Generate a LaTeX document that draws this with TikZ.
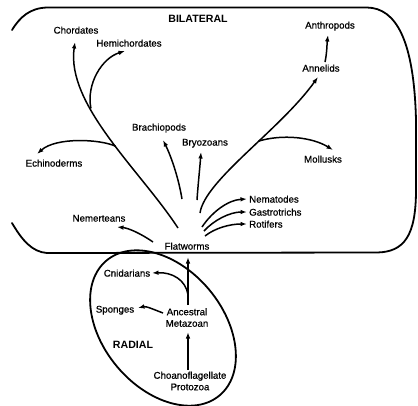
\documentclass[tikz,border=0pt]{standalone}
\usepackage{fontspec}
\setmainfont{Liberation Sans}
\newfontfamily\taxonfont[FakeBold=0.7]{Liberation Sans}
\usetikzlibrary{arrows.meta}
\begin{document}
\begin{tikzpicture}[x=1pt,y=-1pt,
  lbl/.style={font=\taxonfont\fontsize{9.7}{11.5}\selectfont, inner sep=0pt, anchor=base},
  twoline/.style={font=\taxonfont\fontsize{9.7}{11.5}\selectfont, inner sep=0pt, align=center},
  region/.style={font=\fontsize{10.6}{12}\selectfont\bfseries, inner sep=0pt, anchor=base},
  wall/.style={line width=1.8pt, line cap=round},
  link/.style={line width=1.5pt, -{Latex[length=6.5pt,width=4.6pt]}}]
\useasboundingbox (0,0) rectangle (418,405);

% ---- bilateral enclosure (open on the left) ----
\draw[wall] (12,30) .. controls (20,17) and (30,8) .. (47,7.5) -- (367,7.5)
  .. controls (396,8) and (414,40) .. (416,120) -- (416,190)
  .. controls (416,236) and (404,252) .. (377,252.5) -- (47,253)
  .. controls (32,252) and (22,240) .. (12,223);

% ---- radial enclosure ----
\draw[wall, rotate around={-50:(163,328)}] (163,328) ellipse [x radius=88, y radius=60];

% ---- labels ----
\node[region] (bil) at (198,22.8) {BILATERAL};
\node[region] (rad) at (133,348.8) {RADIAL};

\node[lbl] (chord) at (76,33.6) {Chordates};
\node[lbl] (hemi)  at (129,46.6) {Hemichordates};
\node[lbl] (arthro) at (330,28.6) {Anthropods};
\node[lbl] (annel) at (321,71.6) {Annelids};
\node[lbl] (brach) at (159,130.6) {Brachiopods};
\node[lbl] (bryo)  at (205,145.6) {Bryozoans};
\node[lbl] (moll)  at (323,162.6) {Mollusks};
\node[lbl] (echi)  at (54,166.6) {Echinoderms};
\node[lbl, anchor=base west] (nema) at (249,202.6) {Nematodes};
\node[lbl, anchor=base west] (gast) at (249,215.6) {Gastrotrichs};
\node[lbl, anchor=base west] (roti) at (249,227.6) {Rotifers};
\node[lbl] (nemer) at (99,221.6) {Nemerteans};
\node[lbl] (flat)  at (187,249.6) {Flatworms};
\node[lbl] (cnid)  at (127,276.6) {Cnidarians};
\node[lbl] (spon)  at (115,312.6) {Sponges};
\node[twoline] (anc)  at (187,317.5) {Ancestral\\Metazoan};
\node[twoline] (choa) at (190,381) {Choanoflagellate\\Protozoa};

% ---- connector end points ----
\coordinate (fwChord) at (178,228);
\coordinate (fwBrach) at (182,199);
\coordinate (fwBryo)  at (197,200);
\coordinate (fwAnnel) at (200,213);
\coordinate (fwNema)  at (202,227);
\coordinate (fwGast)  at (204,231);
\coordinate (fwRoti)  at (205,236);
\coordinate (fwNemer) at (153,242);
\coordinate (annTop)  at (325,62);
\coordinate (choaTop) at (188,370);
\coordinate (ancTop)  at (188,305);
\coordinate (ancLeft) at (163,313);

\coordinate (tChord) at (75,42);
\coordinate (tHemi)  at (125,51);
\coordinate (tEchi)  at (37,154);
\coordinate (tBrach) at (163,140);
\coordinate (tBryo)  at (201,152);
\coordinate (tAnnel) at (318,77);
\coordinate (tArthro) at (328,35);
\coordinate (tMoll)  at (333,150);
\coordinate (tNema)  at (247,199);
\coordinate (tGast)  at (247,212);
\coordinate (tRoti)  at (247,224);
\coordinate (tNemer) at (117,227);
\coordinate (tFlat)  at (188,257);
\coordinate (tAnc)   at (188,332);
\coordinate (tCnid)  at (152,273);
\coordinate (tSpon)  at (138,308);

% ---- deuterostome line ----
\draw[link] (fwChord) .. controls (140,170) and (66,105) ..
  coordinate[pos=0.45] (echiFork) coordinate[pos=0.65] (hemiFork) (tChord);
\draw[link] (hemiFork) .. controls (86,84) and (102,58) .. (tHemi);
\draw[link] (echiFork) .. controls (100,139) and (56,137) .. (tEchi);

% ---- protostome line ----
\draw[link] (fwAnnel) .. controls (205,180) and (280,130) ..
  coordinate[pos=0.58] (mollFork) (tAnnel);
\draw[link] (mollFork) .. controls (282,134) and (312,137) .. (tMoll);
\draw[link] (annTop) .. controls (327,53) and (327,43) .. (tArthro);

% ---- other flatworm descendants ----
\draw[link] (fwBrach) .. controls (178,175) and (170,154) .. (tBrach);
\draw[link] (fwBryo) .. controls (198,185) and (200,166) .. (tBryo);
\draw[link] (fwNema) .. controls (212,212) and (228,200) .. (tNema);
\draw[link] (fwGast) .. controls (214,220) and (230,212) .. (tGast);
\draw[link] (fwRoti) .. controls (215,228) and (230,224) .. (tRoti);
\draw[link] (fwNemer) .. controls (140,233) and (128,228) .. (tNemer);

% ---- radial part ----
\draw[link] (choaTop) -- (tAnc);
\draw[link] (ancTop) -- coordinate[pos=0.21] (cnidFork) (tFlat);
\draw[link] (cnidFork) .. controls (186,280) and (172,272) .. (tCnid);
\draw[link] (ancLeft) .. controls (155,310) and (146,306) .. (tSpon);
\end{tikzpicture}
\end{document}
